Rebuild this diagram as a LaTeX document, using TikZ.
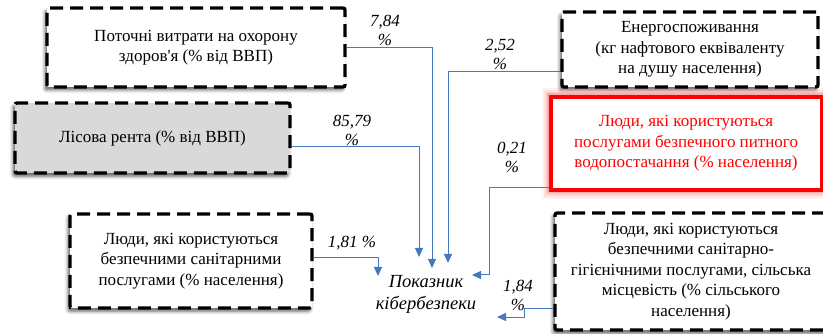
\documentclass[tikz,border=0pt]{standalone}
\usepackage{fontspec}
\setmainfont{Liberation Serif}
\newfontfamily\tnr{Liberation Serif}
\font\aposfont="Liberation Serif" at 17pt
\usetikzlibrary{arrows.meta,shadows.blur}
\definecolor{arrblue}{RGB}{70,120,192}
\definecolor{boxgray}{RGB}{217,217,217}
\definecolor{glowred}{RGB}{255,0,0}
\tikzset{
  dbox/.style={draw=black, line width=3.3pt, dash pattern=on 13pt off 7pt, rounded corners=2pt,
    fill=white, align=center, inner sep=0pt, font=\tnr\fontsize{17}{20.5}\selectfont,
    blur shadow={shadow xshift=-2pt, shadow yshift=-3pt, shadow blur radius=3.5pt, shadow opacity=65}},
  rbox/.style={draw=red, line width=4pt, fill=white, align=center, inner sep=0pt,
    text=red, font=\tnr\fontsize{17}{20.5}\selectfont,
    preaction={draw=glowred, line width=18pt, opacity=0.05},
    preaction={draw=glowred, line width=14pt, opacity=0.07},
    preaction={draw=glowred, line width=10pt, opacity=0.1},
    preaction={draw=glowred, line width=7pt, opacity=0.15}},
  conn/.style={draw=arrblue, line width=1pt, -{Triangle[length=9pt,width=8pt]}},
  pct/.style={align=center, font=\tnr\itshape\fontsize{17}{19}\selectfont, inner sep=0pt},
}
\begin{document}
\begin{tikzpicture}[x=1pt,y=-1pt]
\useasboundingbox (0,0) rectangle (823,334);
\begin{scope}
\clip (0,0) rectangle (823,334);
% boxes
\node[dbox, minimum width=298pt, minimum height=79pt] (h) at (196,47.5)
  {Поточні витрати на охорону\\здоров{\aposfont'}я (\% від ВВП)};
\node[dbox, minimum width=256pt, minimum height=75pt] (en) at (690,49.5)
  {Енергоспоживання\\(кг нафтового еквіваленту\\на душу населення)};
\node[dbox, fill=boxgray, minimum width=275pt, minimum height=70pt] (ls) at (152.5,138)
  {Лісова рента (\% від ВВП)};
\node[rbox, minimum width=271pt, minimum height=93pt] (rd) at (686,143.5)
  {Люди, які користуються\\послугами безпечного питного\\водопостачання (\% населення)};
\node[dbox, minimum width=242pt, minimum height=94pt] (b5) at (191,261)
  {Люди, які користуються\\безпечними санітарними\\послугами (\% населення)};
\node[dbox, minimum width=272pt, minimum height=117pt] (b6) at (691,271.5)
  {Люди, які користуються\\безпечними санітарно-\\гігієнічними послугами, сільська\\місцевість (\% сільського\\населення)};
\end{scope}
% centre
\node[pct, font=\tnr\itshape\fontsize{18.5}{22}\selectfont] (kpi) at (426,294) {Показник\\кібербезпеки};
% targets
\coordinate (t1) at (432,268);
\coordinate (t2) at (419,257);
\coordinate (t3) at (448,263);
\coordinate (c4) at (489,275);
\coordinate (t4) at (472,275);
\coordinate (t5) at (378,276);
\coordinate (c6) at (524,317);
\coordinate (t6) at (497,317);
% connectors
\draw[conn] (h.east) -| (t1);
\draw[conn] ([yshift=-9pt]ls.east) -| (t2);
\draw[conn] ([yshift=-22.5pt]en.west) -| (t3);
\draw[conn] ([yshift=-44.5pt]rd.west) -| (c4) -- (t4);
\draw[conn] ([yshift=3pt]b5.east) -| (t5);
\draw[conn] ([yshift=-36.5pt]b6.west) -| (c6) -- (t6);
% labels
\node[pct] (l1) at (385,30) {7,84\\\%};
\node[pct] (l2) at (500,54) {2,52\\\%};
\node[pct] (l3) at (352,130) {85,79\\\%};
\node[pct] (l4) at (512,157) {0,21\\\%};
\node[pct] (l5) at (352,243) {1,81 \%};
\node[pct] (l6) at (518,295) {1,84\\\%};
\end{tikzpicture}
\end{document}
